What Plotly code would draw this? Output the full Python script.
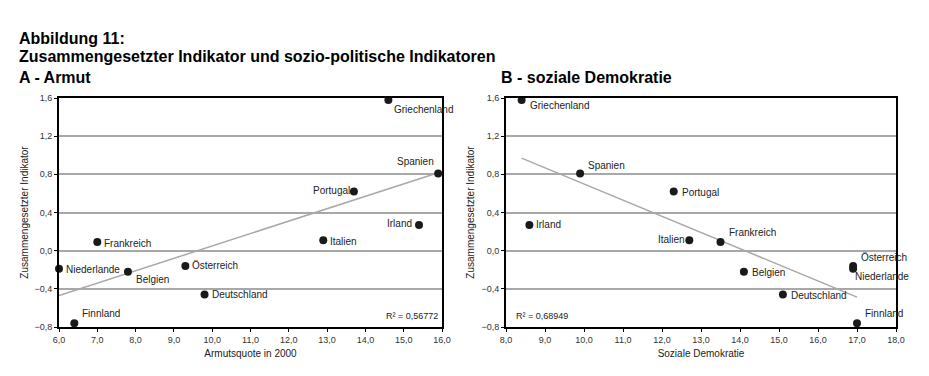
import numpy as np
import plotly.graph_objects as go

countries = ["Griechenland", "Spanien", "Portugal", "Irland", "Italien", "Frankreich",
             "Niederlande", "Belgien", "Österreich", "Deutschland", "Finnland"]
indikator = [1.58, 0.81, 0.62, 0.27, 0.11, 0.09, -0.19, -0.22, -0.16, -0.46, -0.76]
armut = [14.6, 15.9, 13.7, 15.4, 12.9, 7.0, 6.0, 7.8, 9.3, 9.8, 6.4]
demokratie = [8.4, 9.9, 12.3, 8.6, 12.7, 13.5, 16.9, 14.1, 16.9, 15.1, 17.0]
r2_a = "R² = 0,56772"
r2_b = "R² = 0,68949"
xticks_a = [6, 7, 8, 9, 10, 11, 12, 13, 14, 15, 16]
xticks_b = [8, 9, 10, 11, 12, 13, 14, 15, 16, 17, 18]
yticks = [-0.8, -0.4, 0.0, 0.4, 0.8, 1.2, 1.6]

# label placement (xanchor, yanchor, xshift, yshift)
pos_a = {
    "Griechenland": ("left", "top", 4, -2), "Spanien": ("right", "bottom", -2, 4),
    "Portugal": ("right", "middle", -2, 1), "Irland": ("right", "middle", -5, 1),
    "Italien": ("left", "middle", 5, -1), "Frankreich": ("left", "middle", 5, -1),
    "Niederlande": ("left", "middle", 5, -1), "Belgien": ("left", "top", 6, 0),
    "Österreich": ("left", "middle", 5, 0), "Deutschland": ("left", "middle", 5, 0),
    "Finnland": ("left", "bottom", 6, 2),
}
pos_b = {
    "Griechenland": ("left", "top", 6, 2), "Spanien": ("left", "bottom", 6, 0),
    "Portugal": ("left", "middle", 6, -1), "Irland": ("left", "middle", 5, 0),
    "Italien": ("right", "middle", -2, 1), "Frankreich": ("left", "bottom", 6, 2),
    "Niederlande": ("left", "top", 0, 0), "Belgien": ("left", "middle", 6, -1),
    "Österreich": ("left", "bottom", 6, 1), "Deutschland": ("left", "middle", 6, -1),
    "Finnland": ("left", "bottom", 6, 2),
}

FONT = "Liberation Sans, Arial, sans-serif"
OFF = 8          # page body margin
W, H = 929 - 2 * OFF, 376 - 2 * OFF


def px(x):
    return (x - OFF) / W


def py(y):
    return 1 - (y - OFF) / H


fig = go.Figure()

for xs, xa, ya in [(armut, "x", "y"), (demokratie, "x2", "y2")]:
    m, b = np.polyfit(xs, indikator, 1)
    lx = np.array([min(xs), max(xs)])
    fig.add_trace(go.Scatter(x=lx, y=m * lx + b, mode="lines", xaxis=xa, yaxis=ya,
                             line=dict(color="#a8a8a8", width=1.5), showlegend=False, hoverinfo="skip"))
    fig.add_trace(go.Scatter(x=xs, y=indikator, mode="markers", xaxis=xa, yaxis=ya,
                             marker=dict(color="#1a1a1a", size=8), cliponaxis=False,
                             showlegend=False))

ann = []
for xs, pos, xr, yr in [(armut, pos_a, "x", "y"), (demokratie, pos_b, "x2", "y2")]:
    for c, xv, yv in zip(countries, xs, indikator):
        xan, yan, xs_, ys_ = pos[c]
        ann.append(dict(x=xv, y=yv, xref=xr, yref=yr, text=c, showarrow=False,
                        xanchor=xan, yanchor=yan, xshift=xs_, yshift=ys_,
                        font=dict(family=FONT, size=10, color="#222")))

ann.append(dict(x=16, y=-0.68, xref="x", yref="y", text=r2_a, showarrow=False,
                xanchor="right", yanchor="middle", xshift=-2, font=dict(family=FONT, size=9, color="#222")))
ann.append(dict(x=8, y=-0.68, xref="x2", yref="y2", text=r2_b, showarrow=False,
                xanchor="left", yanchor="middle", xshift=8, font=dict(family=FONT, size=9, color="#222")))

for txt, x, y in [("Abbildung 11:", 17, 38), ("Zusammengesetzter Indikator und sozio-politische Indikatoren", 17, 57),
                  ("A - Armut", 17, 77), ("B - soziale Demokratie", 499, 77)]:
    ann.append(dict(x=px(x), y=py(y), xref="paper", yref="paper", text="<b>%s</b>" % txt,
                    showarrow=False, xanchor="left", yanchor="middle",
                    font=dict(family=FONT, size=16, color="#000")))

axis_common = dict(showline=True, linecolor="#000", linewidth=2, mirror=True, ticks="outside",
                   ticklen=3, tickcolor="#000", tickfont=dict(family=FONT, size=9, color="#333"),
                   tickformat=".1f", zeroline=False, fixedrange=True, automargin=False)

yd = [py(327), py(98)]
fig.update_layout(
    template="none",
    width=W, height=H, margin=dict(l=0, r=0, t=0, b=0, pad=0), autosize=False,
    paper_bgcolor="white", plot_bgcolor="white", separators=",.",
    xaxis=dict(domain=[px(59), px(442)], range=[6, 16], tickvals=xticks_a, showgrid=False,
               title=dict(text="Armutsquote in 2000", font=dict(family=FONT, size=10, color="#222"), standoff=6),
               anchor="y", **axis_common),
    yaxis=dict(domain=yd, range=[-0.8, 1.6], tickvals=yticks, showgrid=True, gridcolor="#a8a8a8", gridwidth=1.5,
               title=dict(text="Zusammengesetzter Indikator", font=dict(family=FONT, size=10, color="#222"), standoff=4),
               anchor="x", **axis_common),
    xaxis2=dict(domain=[px(506), px(896)], range=[8, 18], tickvals=xticks_b, showgrid=False,
                title=dict(text="Soziale Demokratie", font=dict(family=FONT, size=10, color="#222"), standoff=6),
                anchor="y2", **axis_common),
    yaxis2=dict(domain=yd, range=[-0.8, 1.6], tickvals=yticks, showgrid=True, gridcolor="#a8a8a8", gridwidth=1.5,
                title=dict(text="Zusammengesetzter Indikator", font=dict(family=FONT, size=10, color="#222"), standoff=5),
                anchor="x2", **axis_common),
    annotations=ann,
)

fig.write_html("out.html")
